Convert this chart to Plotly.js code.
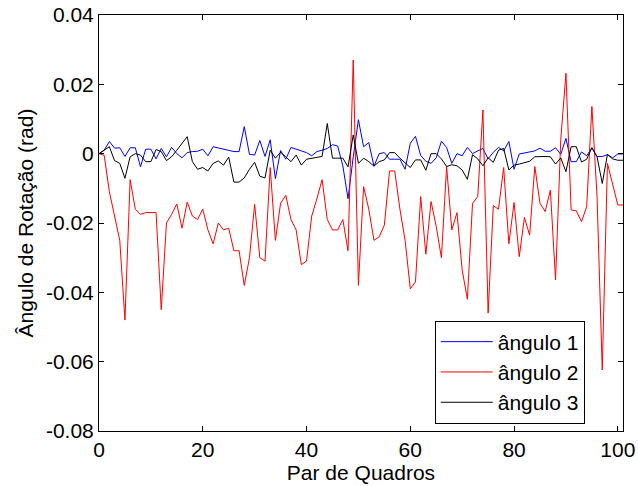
<!DOCTYPE html>
<html>
<head>
<meta charset="utf-8">
<script src="https://cdn.plot.ly/plotly-3.0.1.min.js"></script>
<style>html,body{margin:0;padding:0;background:#fff;}#chart{width:638px;height:486px;}</style>
</head>
<body>
<div id="chart"></div>
<script>
const frames = [0,1,2,3,4,5,6,7,8,9,10,11,12,13,14,15,16,17,18,19,20,21,22,23,24,25,26,27,28,29,30,31,32,33,34,35,36,37,38,39,40,41,42,43,44,45,46,47,48,49,50,51,52,53,54,55,56,57,58,59,60,61,62,63,64,65,66,67,68,69,70,71,72,73,74,75,76,77,78,79,80,81,82,83,84,85,86,87,88,89,90,91,92,93,94,95,96,97,98,99,100,101];

const angle1 = [0,0.001,0.0035,0.0016,0.0017,-0.0008,0.0017,0.0017,-0.0038,0.0013,
0.0013,-0.0015,0.0015,-0.0009,0.0018,0,-0.0012,0.0003,0.0006,0.0007,
0.0013,-0.0006,0.002,0.0017,0.0014,0.0009,0.0006,0.0006,0.0078,-0.0002,
-0.0004,0.0038,-0.0008,0.004,-0.0072,0.0009,-0.0016,0.0018,0.0013,0.0009,
0.0003,-0.0006,0.0006,0.001,0.0015,0.0026,0.0022,-0.0035,-0.013,-0.001,
0.0098,0.002,0.0032,-0.0036,0,0.0003,-0.0016,-0.0016,-0.0016,-0.0045,
0.003,0.005,-0.0005,-0.0022,-0.0028,-0.0012,0.0036,0.0018,-0.0028,0,
-0.0006,0.0018,0,0.0008,0.0015,-0.0015,0.0004,0.0018,0.0008,0.0035,
-0.0045,-0.0001,0.0002,0.0005,0.0008,0.0016,0.0007,0.0007,0.0017,-0.0002,
0.0044,-0.0023,-0.0023,0.0005,-0.0006,0.0017,-0.0008,-0.0008,-0.0003,-0.0012,
-0.0001,-0.0001];

const angle2 = [0,-0.0005,-0.011,-0.018,-0.025,-0.048,-0.0075,-0.016,-0.0175,-0.017,
-0.017,-0.017,-0.045,-0.020,-0.0175,-0.0145,-0.0215,-0.014,-0.018,-0.019,
-0.016,-0.022,-0.026,-0.020,-0.022,-0.0215,-0.028,-0.028,-0.038,-0.030,
-0.0146,-0.030,-0.031,-0.004,-0.025,-0.0143,-0.012,-0.019,-0.022,-0.032,
-0.031,-0.018,-0.013,-0.0075,-0.019,-0.022,-0.022,-0.019,-0.028,0.027,
-0.038,-0.0095,-0.016,-0.025,-0.024,-0.0206,-0.005,-0.005,-0.016,-0.025,
-0.039,-0.037,-0.0124,-0.029,-0.0138,-0.021,-0.030,-0.0037,-0.022,-0.017,
-0.0335,-0.042,-0.0143,-0.0124,0.0126,-0.046,-0.015,-0.016,-0.004,-0.026,
-0.0141,-0.0297,-0.0184,-0.0235,-0.0037,-0.0143,-0.0167,-0.0105,-0.0364,0.004,
0.0232,-0.0162,-0.0165,-0.0196,-0.0153,0.0136,-0.0124,-0.0624,-0.0028,-0.0086,
-0.0148,-0.0148];

const angle3 = [0,0.001,0.002,-0.002,-0.0028,-0.0071,-0.0009,0,-0.0004,-0.0023,
-0.0023,0.0012,0.0006,-0.002,-0.0009,0.001,0.003,0.0049,-0.0023,-0.0045,
-0.004,-0.005,-0.0028,-0.0021,-0.0033,-0.001,-0.0082,-0.0082,-0.007,-0.0045,
-0.0025,-0.0065,-0.007,0.001,-0.0013,0.0004,-0.0009,-0.0023,-0.0004,-0.0033,
-0.0016,-0.0014,-0.001,-0.0008,0.0087,-0.0013,-0.0013,-0.0013,-0.0038,0.0054,
-0.0028,-0.0013,-0.0023,-0.0036,-0.0023,-0.0018,0.0003,0.0003,-0.0013,-0.0028,
-0.004,-0.0018,-0.0018,-0.0048,0,0,-0.0015,-0.0037,-0.0032,-0.0035,
-0.0047,-0.0074,-0.0003,-0.0015,-0.0035,-0.0012,-0.0025,0.001,0.0015,-0.0047,
-0.0033,-0.003,-0.0026,-0.0022,-0.0009,-0.0008,-0.0008,-0.0009,-0.003,-0.0012,
-0.0052,0.002,0.002,-0.0024,-0.0016,0.0017,-0.0009,-0.0086,-0.0002,-0.0015,
-0.0019,-0.0019];

const seriesNames = ["ângulo 1", "ângulo 2", "ângulo 3"];
const xTickVals = [0, 20, 40, 60, 80, 100];
const xTickText = ["0", "20", "40", "60", "80", "100"];
const yTickVals = [-0.08, -0.06, -0.04, -0.02, 0, 0.02, 0.04];
const yTickText = ["-0.08", "-0.06", "-0.04", "-0.02", "0", "0.02", "0.04"];

const FONT = "Arial, 'Liberation Sans', Helvetica, sans-serif";

const traces = [
  {x: frames, y: angle1, name: seriesNames[0], mode: "lines", line: {color: "#0000ff", width: 1}},
  {x: frames, y: angle2, name: seriesNames[1], mode: "lines", line: {color: "#ff0000", width: 1}},
  {x: frames, y: angle3, name: seriesNames[2], mode: "lines", line: {color: "#000000", width: 1}}
];

const axisCommon = {
  showgrid: false, zeroline: false, showline: true, mirror: "ticks",
  linecolor: "#000", linewidth: 1, ticks: "inside", ticklen: 5, tickcolor: "#000",
  tickfont: {family: FONT, size: 21, color: "#000"}
};

const layout = {
  width: 638, height: 486,
  margin: {l: 99, r: 15, t: 15, b: 55, pad: 0},
  paper_bgcolor: "#fff", plot_bgcolor: "#fff",
  font: {family: FONT, color: "#000"},
  showlegend: true,
  legend: {
    x: 0.927, y: 0.018, xanchor: "right", yanchor: "bottom",
    bgcolor: "#fff", bordercolor: "#000", borderwidth: 1,
    font: {family: FONT, size: 21, color: "#000"},
    itemwidth: 52, tracegroupgap: 0
  },
  xaxis: Object.assign({}, axisCommon, {
    range: [0, 101], tickmode: "array", tickvals: xTickVals, ticktext: xTickText,
    title: {text: "Par de Quadros", font: {family: FONT, size: 21, color: "#000"}, standoff: 2}
  }),
  yaxis: Object.assign({}, axisCommon, {
    range: [-0.08, 0.04], tickmode: "array", tickvals: yTickVals, ticktext: yTickText,
    title: {text: "Ângulo de Rotação (rad)", font: {family: FONT, size: 21, color: "#000"}, standoff: 6}
  })
};

Plotly.newPlot("chart", traces, layout, {displayModeBar: false, staticPlot: true});
</script>
</body>
</html>
